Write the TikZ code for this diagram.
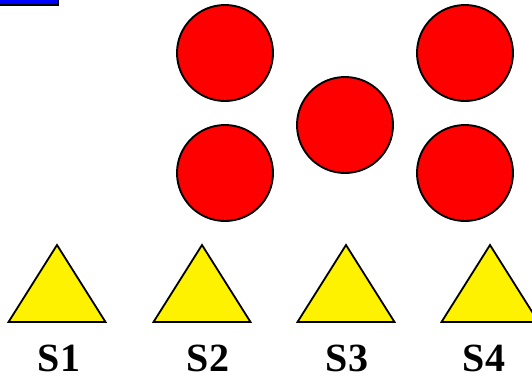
\documentclass[tikz,border=0pt]{standalone}
\usepackage{fontspec}
\setmainfont{Liberation Serif}
\begin{document}
\begin{tikzpicture}[x=1pt,y=-1pt,
  ball/.style={draw=black,fill=red,line width=1.9pt},
  tri/.style={draw=black,fill=yellow,line width=1.8pt,line join=miter},
  lab/.style={font=\fontsize{40}{44}\selectfont\bfseries,inner sep=0pt,anchor=base},
  bar/.style={draw=black,fill=blue,line width=2pt}]
\useasboundingbox (0,0) rectangle (532,381);
\draw[bar] (-10,-10) rectangle (57.5,4.5);
% circles
\draw[ball] (225,53) circle (48);
\draw[ball] (225,173) circle (48);
\draw[ball] (345,125) circle (48);
\draw[ball] (465,53) circle (48);
\draw[ball] (465,173) circle (48);
% triangles
\foreach \cx/\t/\lx in {57/S1/59,202/S2/208,346/S3/347,490/S4/484}{
  \draw[tri] (\cx-48.5,322) -- (\cx,245) -- (\cx+48.5,322) -- cycle;
  \node[lab] (l\t) at (\lx,371) {\t};
}
\end{tikzpicture}
\end{document}
